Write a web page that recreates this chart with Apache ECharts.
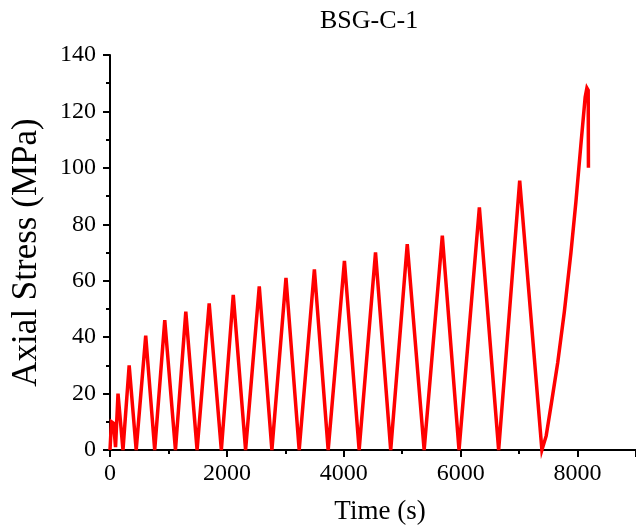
<!DOCTYPE html>
<html>
<head>
<meta charset="utf-8">
<script src="https://cdn.jsdelivr.net/npm/echarts@6/dist/echarts.min.js"></script>
<style>
    html, body {margin: 0; padding: 0; background: #fff;}
    #chart {width: 636px; height: 532px;}
</style>
</head>
<body>
<div id="chart"></div>
<script>
// cyclic loading record of BSG-C-1
const timeS = [
    0, 25, 60, 95, 137, 222, 328, 448, 611, 765, 937, 1120, 1297, 1490,
    1697, 1905, 2109, 2320, 2554, 2770, 3011, 3237, 3497, 3733, 4011, 4263,
    4543, 4803, 5086, 5375, 5686, 5972, 6320, 6650, 7010, 7390,
    7463, 7548, 7661, 7774, 7887, 7972, 8056, 8130, 8160, 8182, 8186
];
const stressMPa = [
    0, 10, 9.5, 1, 20, 0, 30, 0, 40.5, 0, 46, 0, 49, 0,
    52, 0, 55, 0, 58, 0, 61, 0, 64, 0, 67, 0,
    70, 0, 73, 0, 76, 0, 86, 0, 95.5, 0,
    5, 16, 31, 49, 70, 88, 108, 125, 128.3, 127.5, 100
];
const xTicks = [0, 2000, 4000, 6000, 8000];
const yTicks = [0, 20, 40, 60, 80, 100, 120, 140];

const serif = 'Liberation Serif';
const chart = echarts.init(document.getElementById('chart'));

const lineData = timeS.map((t, i) => [t, stressMPa[i]]);

chart.setOption({
    animation: false,
    backgroundColor: '#fff',
    grid: {left: 110, right: 0, top: 55, bottom: 82},
    graphic: [{
        type: 'text',
        left: 380 - 60,
        top: 8,
        style: {
            text: 'BSG-C-1',
            font: '26px "Liberation Serif"',
            fill: '#000',
            width: 120,
            align: 'center'
        }
    }],
    xAxis: {
        type: 'value',
        min: 0,
        max: 9000,
        interval: 2000,
        name: 'Time (s)',
        nameLocation: 'middle',
        nameGap: 48,
        nameTextStyle: {fontFamily: serif, fontSize: 27, color: '#000', padding: [0, 0, 0, 14]},
        axisLine: {lineStyle: {color: '#000', width: 2}},
        axisTick: {length: 7, lineStyle: {width: 2}},
        minorTick: {show: true, splitNumber: 2, length: 4, lineStyle: {color: '#000', width: 2}},
        splitLine: {show: false},
        axisLabel: {
            showMaxLabel: false,
            margin: 12,
            fontFamily: serif, fontSize: 24, color: '#000',
            formatter: v => xTicks.includes(v) ? String(v) : ''
        }
    },
    yAxis: {
        type: 'value',
        min: yTicks[0],
        max: yTicks[yTicks.length - 1],
        interval: 20,
        name: 'Axial Stress (MPa)',
        nameLocation: 'middle',
        nameGap: 66,
        nameTextStyle: {fontFamily: serif, fontSize: 35, color: '#000'},
        axisLine: {show: true, lineStyle: {color: '#000', width: 2}},
        axisTick: {show: true, length: 7, lineStyle: {width: 2}},
        minorTick: {show: true, splitNumber: 2, length: 4, lineStyle: {color: '#000', width: 2}},
        splitLine: {show: false},
        axisLabel: {margin: 14, fontFamily: serif, fontSize: 24, color: '#000'}
    },
    series: [{
        type: 'line',
        data: lineData,
        symbol: 'none',
        clip: false,
        lineStyle: {color: '#ff0000', width: 3.5, join: 'miter'}
    }]
});
</script>
</body>
</html>
